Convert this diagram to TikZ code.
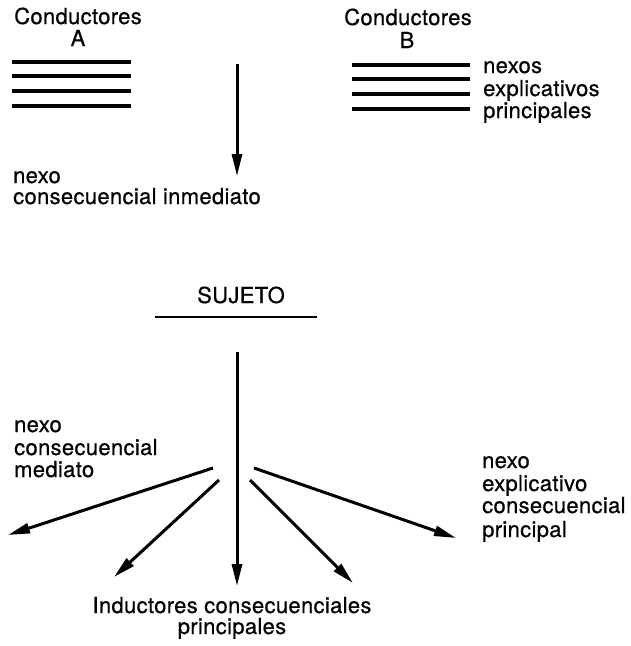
\documentclass[tikz,border=0pt]{standalone}
\usepackage{fontspec}
\setmainfont{TeX Gyre Heros}[LetterSpace=1.5,FakeBold=0.6]
\usetikzlibrary{arrows.meta}
\begin{document}
\begin{tikzpicture}[x=1pt,y=-1pt,
  lab/.style={inner sep=0pt, font=\fontsize{22}{24}\selectfont},
  wire/.style={line width=3.6pt},
  arr/.style={line width=3pt, -{Triangle[length=22pt,width=10pt]}}]
\useasboundingbox (0,0) rectangle (630,646);
% Conductores A
\node[lab, anchor=base] (condA) at (78,24) {Conductores};
\node[lab, anchor=base] (condAl) at (78,46) {A};
\foreach \y in {62,76,91,106} \draw[wire] (12,\y) -- (131,\y);
% Conductores B
\node[lab, anchor=base] (condB) at (408,25) {Conductores};
\node[lab, anchor=base] (condBl) at (407,48) {B};
\foreach \y in {65,79,94,109} \draw[wire] (352,\y) -- (470,\y);
\node[lab, anchor=base west] (nx1) at (483,73) {nexos};
\node[lab, anchor=base west] (nx2) at (483,96) {explicativos};
\node[lab, anchor=base west] (nx3) at (483,118) {principales};
% top arrow
\coordinate (t0) at (237,64);
\coordinate (t1) at (237,176);
\draw[arr] (t0) -- (t1);
\node[lab, anchor=base west] (ni1) at (13,183) {nexo};
\node[lab, anchor=base west] (ni2) at (13,204) {consecuencial inmediato};
% sujeto
\node[lab, anchor=base] (suj) at (241,303) {SUJETO};
\coordinate (s0) at (155,317);
\coordinate (s1) at (317,317);
\draw[line width=2pt] (s0) -- (s1);
% fan of arrows
\coordinate (c0) at (237,352);
\coordinate (c1) at (237,586);
\draw[arr] (c0) -- (c1);
\coordinate (fl0) at (213,468);
\coordinate (fl1) at (8,535);
\draw[arr] (fl0) -- (fl1);
\coordinate (l0) at (219,480);
\coordinate (l1) at (114,577);
\draw[arr] (l0) -- (l1);
\coordinate (r0) at (250,480);
\coordinate (r1) at (353,583);
\draw[arr] (r0) -- (r1);
\coordinate (fr0) at (254,468);
\coordinate (fr1) at (456,538);
\draw[arr] (fr0) -- (fr1);
% labels
\node[lab, anchor=base west] (nm1) at (14,432) {nexo};
\node[lab, anchor=base west] (nm2) at (14,455) {consecuencial};
\node[lab, anchor=base west] (nm3) at (14,477) {mediato};
\node[lab, anchor=base west] (ne1) at (482,468) {nexo};
\node[lab, anchor=base west] (ne2) at (482,491) {explicativo};
\node[lab, anchor=base west] (ne3) at (482,513) {consecuencial};
\node[lab, anchor=base west] (ne4) at (482,537) {principal};
\node[lab, anchor=base] (ind1) at (232,613) {Inductores consecuenciales};
\node[lab, anchor=base] (ind2) at (232,634) {principales};
\end{tikzpicture}
\end{document}
